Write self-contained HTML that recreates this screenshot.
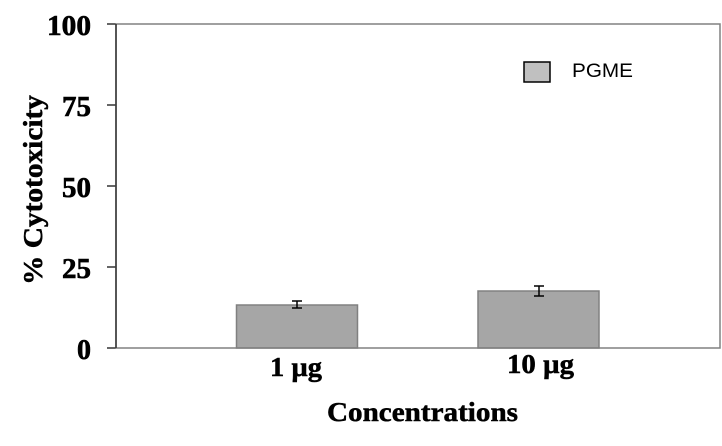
<!DOCTYPE html>
<html><head><style>body{margin:0;background:#fff}</style></head><body>
<svg width="722" height="446" xmlns="http://www.w3.org/2000/svg" style="display:block">
<rect width="722" height="446" fill="#fff"/>
<g font-family="Liberation Serif, serif" font-weight="bold" font-size="28" text-anchor="end" fill="#000" stroke="#000" stroke-width="0.6">
<text x="91" y="35" textLength="44" lengthAdjust="spacingAndGlyphs">100</text>
<text x="91" y="116" textLength="29" lengthAdjust="spacingAndGlyphs">75</text>
<text x="91" y="197" textLength="29" lengthAdjust="spacingAndGlyphs">50</text>
<text x="91" y="278" textLength="29" lengthAdjust="spacingAndGlyphs">25</text>
<text x="91" y="359">0</text>
</g>
<g stroke="#333" stroke-width="1.5">
<line x1="107" y1="24" x2="116" y2="24"/>
<line x1="107" y1="105" x2="116" y2="105"/>
<line x1="107" y1="186" x2="116" y2="186"/>
<line x1="107" y1="267" x2="116" y2="267"/>
<line x1="107" y1="348" x2="116" y2="348"/>
</g>
<rect x="236.5" y="305" width="121" height="43" fill="#a6a6a6" stroke="#808080" stroke-width="1.5"/>
<rect x="478" y="291" width="121" height="57" fill="#a6a6a6" stroke="#808080" stroke-width="1.5"/>
<rect x="116" y="24" width="604" height="324" fill="none" stroke="#808080" stroke-width="1.5"/>
<line x1="116" y1="24" x2="116" y2="348" stroke="#333" stroke-width="1.5"/>
<g stroke="#000" stroke-width="1.5">
<line x1="297" y1="301" x2="297" y2="308"/><line x1="292" y1="301" x2="302" y2="301"/><line x1="292" y1="308" x2="302" y2="308"/>
<line x1="539" y1="286" x2="539" y2="296"/><line x1="534" y1="286" x2="544" y2="286"/><line x1="534" y1="296" x2="544" y2="296"/>
</g>
<rect x="524" y="62" width="26" height="20" fill="#c0c0c0" stroke="#000" stroke-width="1.5"/>
<text x="572" y="77" font-family="Liberation Sans, sans-serif" font-size="19" fill="#000" textLength="61" lengthAdjust="spacingAndGlyphs">PGME</text>
<g font-family="Liberation Serif, serif" font-weight="bold" font-size="27" fill="#000" stroke="#000" stroke-width="0.5">
<text x="270" y="376" textLength="52" lengthAdjust="spacingAndGlyphs">1 µg</text>
<text x="507" y="373" textLength="67" lengthAdjust="spacingAndGlyphs">10 µg</text>
<text x="327" y="421" textLength="191" lengthAdjust="spacingAndGlyphs">Concentrations</text>
<text transform="translate(42,285) rotate(-90)" textLength="190" lengthAdjust="spacingAndGlyphs">% Cytotoxicity</text>
</g>
</svg>
</body></html>
